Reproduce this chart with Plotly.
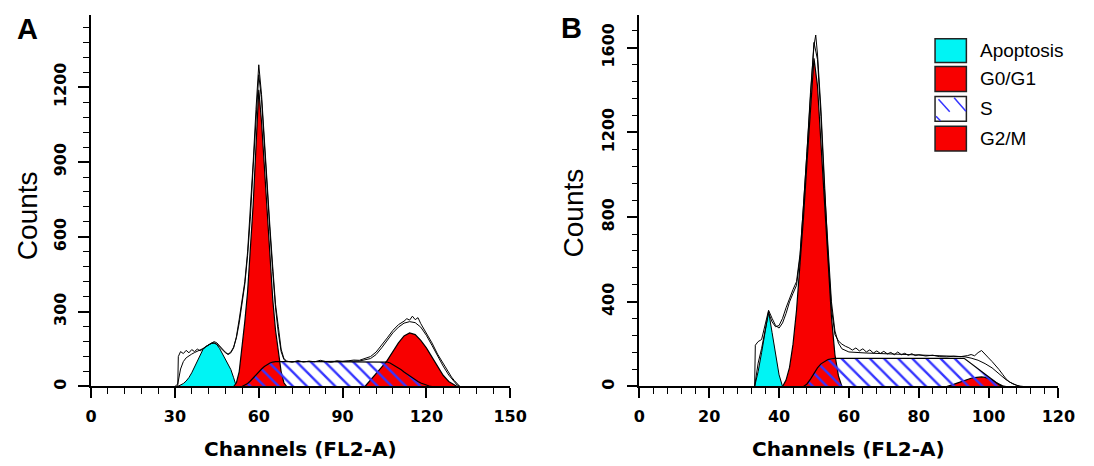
import plotly.graph_objects as go

# ---------------- Panel A data (channel, counts) ----------------
A_apoptosis = [(31,0),(32,5),(33,12),(34,22),(35,36),(36,55),(37,78),(38,105),(39,128),(40,148),
               (41,160),(42,168),(43,174),(44,175),(45,168),(46,152),(47,132),(48,112),(49,92),
               (50,68),(51,35),(52,0)]
A_g0g1 = [(51,0),(52,15),(53,60),(54,150),(55,260),(56,380),(57,540),(58,730),(59,960),(60,1190),
          (61,1060),(62,880),(63,700),(64,530),(65,350),(66,225),(67,130),(68,60),(69,15),(70,0)]
A_s = [(54,0),(55,5),(56,12),(57,22),(58,35),(59,48),(60,60),(61,70),(62,80),(63,88),(64,94),
       (65,98),(66,100),(80,100),(95,100),(105,100),(106,98),(107,94),(108,88),(109,82),(110,75),
       (111,67),(112,58),(113,50),(114,42),(115,34),(116,27),(117,20),(118,14),(119,9),(120,5),
       (121,2),(122,0)]
A_g2m = [(98,0),(100,25),(102,50),(104,78),(106,105),(108,140),(110,175),(112,203),(114,215),
         (116,208),(118,185),(120,155),(122,118),(124,80),(126,45),(128,20),(130,5),(131,0)]
A_data = [(29,0),(31,0),(31.2,120),(32,140),(33,132),(34,145),(35,135),(36,148),(37,140),(38,150),
          (39,143),(40,152),(41,158),(42,166),(43,174),(44,180),(45,175),(46,162),(47,148),(48,138),
          (49,128),(50,135),(51,155),(52,200),(53,270),(54,340),(55,420),(56,540),(57,700),(58,900),
          (59,1110),(60,1290),(61,1170),(62,980),(63,800),(64,640),(65,480),(66,330),(67,240),
          (68,150),(69,112),(70,102),(72,97),(74,104),(76,98),(78,102),(80,99),(82,105),(84,100),
          (86,97),(88,103),(90,100),(92,103),(94,106),(96,105),(98,112),(100,120),(102,138),
          (104,165),(106,195),(108,225),(110,248),(112,262),(113,272),(114,266),(115,282),(116,268),
          (117,276),(118,252),(120,215),(122,175),(124,130),(126,92),(128,55),(129,38),(130,24),
          (131,10),(132,0)]
A_fit = [(30,0),(31,10),(32,70),(33,100),(34,115),(35,124),(36,130),(37,136),(38,141),(39,146),
         (40,152),(41,160),(42,167),(43,172),(44,174),(45,170),(46,158),(47,146),(48,136),(49,130),
         (50,138),(51,158),(52,195),(53,255),(54,325),(55,410),(56,525),(57,680),(58,880),(59,1090),
         (60,1250),(61,1150),(62,960),(63,780),(64,620),(65,460),(66,315),(67,215),(68,140),
         (69,108),(70,100),(80,100),(90,100),(96,102),(100,112),(102,128),(104,155),(106,185),
         (108,215),(110,238),(112,254),(114,260),(116,256),(118,238),(120,205),(122,165),(124,122),
         (126,82),(128,46),(130,18),(131,6),(132,0)]
A_marks = [60, 117]
A_xticks = [0, 30, 60, 90, 120, 150]
A_yticks = [0, 300, 600, 900, 1200]

# ---------------- Panel B data (channel, counts) ----------------
B_apoptosis = [(33,0),(34,70),(35,160),(36,260),(37,355),(38,255),(39,150),(40,55),(41,0)]
B_g0g1 = [(41,0),(42,30),(43,90),(44,200),(45,360),(46,560),(47,800),(48,1060),(49,1330),
          (50,1550),(51,1420),(52,1150),(53,850),(54,560),(55,330),(56,150),(57,50),(58,0)]
B_s = [(47,0),(48,12),(49,35),(50,62),(51,88),(52,107),(53,119),(54,127),(55,131),(56,133),
       (93,133),(94,121),(95,108),(96,96),(97,83),(98,71),(99,58),(100,46),(101,33),(102,21),
       (103,8),(104,0)]
B_g2m = [(88,0),(89,4),(90,10),(91,16),(92,22),(93,28),(94,34),(95,39),(96,42),(97,44),(98,45),
         (99,43),(100,38),(101,30),(102,20),(103,10),(104,3),(105,0)]
B_data = [(32,0),(33,0),(33.2,195),(34,212),(35,222),(36,290),(37,360),(38,322),(39,288),(40,276),
          (41,300),(42,345),(43,400),(44,440),(45,478),(46,610),(47,840),(48,1110),(49,1390),
          (50,1610),(50.5,1660),(51,1570),(52,1310),(53,960),(54,630),(55,370),(56,245),(57,215),
          (58,200),(59,190),(60,183),(61,172),(62,182),(63,168),(64,178),(65,163),(66,173),
          (67,158),(68,168),(69,156),(70,166),(71,154),(72,161),(73,150),(74,163),(75,150),
          (76,157),(77,147),(78,155),(79,146),(80,150),(82,144),(84,148),(86,141),(88,140),
          (90,143),(92,141),(94,146),(95,151),(96,145),(97,160),(98,170),(99,150),(100,135),
          (101,118),(102,100),(103,80),(104,58),(105,36),(106,21),(107,12),(108,6),(109,2),(110,0)]
B_fit = [(33,0),(34,110),(35,180),(36,265),(37,348),(38,305),(39,282),(40,288),(41,322),(42,372),
         (43,418),(44,458),(45,495),(46,625),(47,855),(48,1125),(49,1405),(50,1625),(51,1545),
         (52,1275),(53,935),(54,640),(55,400),(56,262),(57,205),(58,178),(60,163),(65,158),
         (70,155),(75,152),(80,148),(85,145),(90,143),(93,141),(95,134),(97,124),(99,108),
         (101,88),(103,60),(105,32),(107,12),(109,0)]
B_marks = [51]
B_xticks = [0, 20, 40, 60, 80, 100, 120]
B_yticks = [0, 400, 800, 1200, 1600]

legend_labels = ["Apoptosis", "G0/G1", "S", "G2/M"]

CYAN = "#00f4f4"
RED = "#f80000"
HATCH = "#3535ff"

W, H = 1094, 466


def xs(pts):
    return [p[0] for p in pts]


def ys(pts):
    return [p[1] for p in pts]


fig = go.Figure()


def add_panel(xa, ya, apo, g1, s, g2, data, fit, marks, mark_y):
    common = dict(xaxis=xa, yaxis=ya, hoverinfo="skip", showlegend=False)
    fig.add_trace(go.Scatter(x=xs(apo), y=ys(apo), mode="lines", fill="tozeroy",
                             fillcolor=CYAN, line=dict(color="black", width=1), **common))
    fig.add_trace(go.Scatter(x=xs(g1), y=ys(g1), mode="lines", fill="tozeroy",
                             fillcolor=RED, line=dict(color="black", width=1.2), **common))
    fig.add_trace(go.Scatter(x=xs(g2), y=ys(g2), mode="lines", fill="tozeroy",
                             fillcolor=RED, line=dict(color="black", width=1.2), **common))
    fig.add_trace(go.Scatter(x=xs(s), y=ys(s), mode="lines", fill="tozeroy",
                             fillcolor="rgba(0,0,0,0)",
                             fillpattern=dict(shape="\\", fgcolor=HATCH, bgcolor="rgba(0,0,0,0)",
                                              size=10, solidity=0.24, fillmode="replace"),
                             line=dict(color="black", width=1.2), **common))
    fig.add_trace(go.Scatter(x=xs(fit), y=ys(fit), mode="lines",
                             line=dict(color="black", width=1), **common))
    fig.add_trace(go.Scatter(x=xs(data), y=ys(data), mode="lines",
                             line=dict(color="black", width=1), **common))
    fig.add_trace(go.Scatter(x=marks, y=[mark_y] * len(marks), mode="markers",
                             marker=dict(symbol="triangle-up", size=6, color="black"),
                             cliponaxis=False, **common))


add_panel("x", "y", A_apoptosis, A_g0g1, A_s, A_g2m, A_data, A_fit, A_marks, -14)
add_panel("x2", "y2", B_apoptosis, B_g0g1, B_s, B_g2m, B_data, B_fit, B_marks, -16)

tickfont = dict(family="DejaVu Sans", size=16, color="black", weight="bold")


def xaxis_cfg(domain, rng, ticks, minor_dtick):
    return dict(domain=domain, range=rng, tickvals=ticks, ticktext=[str(t) for t in ticks],
                ticks="outside", ticklen=10, tickwidth=1.6, tickcolor="black",
                minor=dict(dtick=minor_dtick, tick0=0, ticks="outside", ticklen=6,
                           tickwidth=1.4, tickcolor="black"),
                showline=True, linewidth=1.6, linecolor="black", showgrid=False,
                zeroline=False, tickfont=tickfont, ticklabelstandoff=5, fixedrange=True)


def yaxis_cfg(domain, rng, ticks, minor_dtick, anchor):
    return dict(domain=domain, range=rng, tickvals=ticks, ticktext=[str(t) for t in ticks],
                ticks="outside", ticklen=11, tickwidth=1.6, tickcolor="black",
                minor=dict(dtick=minor_dtick, tick0=0, ticks="outside", ticklen=6,
                           tickwidth=1.4, tickcolor="black"),
                showline=True, linewidth=1.6, linecolor="black", showgrid=False,
                zeroline=False, tickfont=tickfont, tickangle=-90, ticklabelstandoff=6,
                anchor=anchor, fixedrange=True)


ydom = [1 - 389 / H, 1 - 15 / H]
fig.update_layout(
    width=W, height=H, autosize=False,
    margin=dict(l=0, r=0, t=0, b=0),
    paper_bgcolor="white", plot_bgcolor="white",
    xaxis=dict(**xaxis_cfg([87 / W, 515 / W], [0, 150], A_xticks, 6), anchor="y"),
    yaxis=yaxis_cfg(ydom, [0, 1490], A_yticks, 60, "x"),
    xaxis2=dict(**xaxis_cfg([647 / W, 1075 / W], [0, 120], B_xticks, 4), anchor="y2"),
    yaxis2=yaxis_cfg(ydom, [0, 1755], B_yticks, 80, "x2"),
)

ann = []
titlefont = dict(family="DejaVu Sans", size=20, color="black", weight="bold")
countfont = dict(family="Liberation Sans", size=28, color="black")
letterfont = dict(family="Liberation Sans", size=29, color="black", weight="bold")
for cx, cy_cnt, cxc, lx, ly, letter in [(301, 217, 22, 22, 29, "A"), (861, 214, 580, 578, 28, "B")]:
    ann.append(dict(x=cx / W, y=1 - 452 / H, xref="paper", yref="paper", text="Channels (FL2-A)",
                    showarrow=False, font=titlefont, xanchor="center", yanchor="middle"))
    ann.append(dict(x=cxc / W, y=1 - cy_cnt / H, xref="paper", yref="paper", text="Counts",
                    showarrow=False, font=countfont, textangle=-90,
                    xanchor="center", yanchor="middle"))
    ann.append(dict(x=lx / W, y=1 - ly / H, xref="paper", yref="paper", text=letter,
                    showarrow=False, font=letterfont, xanchor="center", yanchor="middle"))

# legend (panel B)
shapes = []
rows = [(39, 63), (67, 92), (97, 122), (127, 152)]
fills = [CYAN, RED, "white", RED]
bx0, bx1 = 949, 981
for (t, b), fc, lab in zip(rows, fills, legend_labels):
    shapes.append(dict(type="rect", xref="paper", yref="paper", x0=bx0 / W, x1=bx1 / W,
                       y0=1 - b / H, y1=1 - t / H, fillcolor=fc,
                       line=dict(color="#222222", width=1.5)))
    ann.append(dict(x=993 / W, y=1 - (t + b) / 2 / H, xref="paper", yref="paper", text=lab,
                    showarrow=False, font=dict(family="Liberation Sans", size=19, color="black"),
                    xanchor="left", yanchor="middle"))
for (x0, y0, x1, y1) in [(952.5, 100, 964, 112.5), (968.5, 98.5, 980.5, 112), (950, 117, 954.5, 121.5)]:
    shapes.append(dict(type="line", xref="paper", yref="paper", x0=x0 / W, y0=1 - y0 / H,
                       x1=x1 / W, y1=1 - y1 / H, line=dict(color=HATCH, width=1.5)))

fig.update_layout(annotations=ann, shapes=shapes)

fit_page = (
    "var s=document.documentElement.style;s.margin='0';s.padding='0';s.overflow='hidden';"
    "var b=document.body.style;b.margin='0';b.padding='0';b.overflow='hidden';"
    "var d=document.getElementById('{plot_id}');"
    "var w=window.innerWidth||1094, h=window.innerHeight||466;"
    "d.style.width=w+'px';d.style.height=h+'px';"
    "return Plotly.relayout(d,{width:w,height:h});"
)
fig.write_html("out.html", config={"displayModeBar": False}, post_script=fit_page)
